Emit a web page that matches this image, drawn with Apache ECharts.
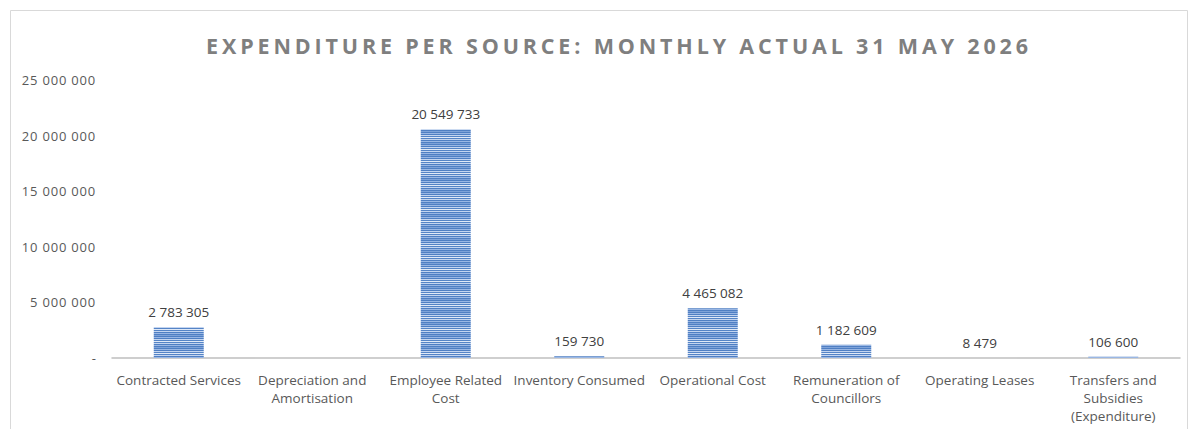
<!DOCTYPE html>
<html><head><meta charset="utf-8">
<script src="https://cdn.jsdelivr.net/npm/echarts@6/dist/echarts.min.js"></script>
<style>html,body{margin:0;padding:0;background:#fff}#c{width:1188px;height:429px}</style>
</head><body><div id="c"></div>
<script>
const categories = ["Contracted Services","Depreciation and\nAmortisation","Employee Related\nCost","Inventory Consumed","Operational Cost","Remuneration of\nCouncillors","Operating Leases","Transfers and\nSubsidies\n(Expenditure)"];
const values = [2783305, 0, 20549733, 159730, 4465082, 1182609, 8479, 106600];
const yTicks = [0, 5000000, 10000000, 15000000, 20000000, 25000000];
const titleText = 'EXPENDITURE PER SOURCE: MONTHLY ACTUAL 31 MAY 2026';

function fmt(v){ return String(Math.round(v)).replace(/\B(?=(\d{3})+(?!\d))/g,' '); }

const stripeRows = ['#4f7fc3','#9ab7e4','#4f7fc3','#c4d5f0','#5584c6','#e0e9f7','#5584c6','#c4d5f0','#4f7fc3','#9ab7e4','#4f7fc3','#7ea2d8'];
const pc = document.createElement('canvas');
pc.width = 4; pc.height = stripeRows.length;
const g = pc.getContext('2d');
stripeRows.forEach((c,i)=>{ g.fillStyle = c; g.fillRect(0,i,4,1); });

const chart = echarts.init(document.getElementById('c'), null, {renderer:'svg'});
chart.setOption({
  animation:false,
  graphic:[
    {type:'rect',shape:{x:10.5,y:10.5,width:1177,height:430},style:{fill:'none',stroke:'#d9d9d9',lineWidth:1}},
    {type:'text',x:619,y:45,style:{text:titleText,textAlign:'center',textVerticalAlign:'middle',
      font:'bold 21.5px "Open Sans"',fill:'#7f7f7f'}}
  ],
  grid:{left:112,right:8,top:80,bottom:71},
  xAxis:{type:'category',data:categories,
    axisLine:{lineStyle:{color:'#bfbfbf',width:1.5}},axisTick:{show:false},
    axisLabel:{interval:0,color:'#595959',fontFamily:'Open Sans',fontSize:13.5,lineHeight:18,margin:13}},
  yAxis:{type:'value',min:yTicks[0],max:yTicks[yTicks.length-1],interval:yTicks[1]-yTicks[0],
    splitLine:{show:false},axisLine:{show:false},axisTick:{show:false},
    axisLabel:{color:'#595959',fontFamily:'Open Sans',fontSize:13,margin:16,
      formatter:v=> v===0?'-':fmt(v)}},
  series:[{type:'bar',data:values,barWidth:50,
    itemStyle:{color:{image:pc,repeat:'repeat'}},
    label:{show:true,position:'top',distance:8,color:'#404040',fontFamily:'Open Sans',fontSize:13.5,
      formatter:p=> p.value===0?'':fmt(p.value)}}]
});
function spacing(){
  document.querySelectorAll('#c svg text').forEach(t=>{
    const s = t.textContent;
    if (s === titleText) t.style.letterSpacing = '3.85px';
    else if (/^\d{1,2} 000 000$/.test(s)) t.style.letterSpacing = '0.8px';
  });
}
spacing();
chart.on('finished', spacing);
</script></body></html>
